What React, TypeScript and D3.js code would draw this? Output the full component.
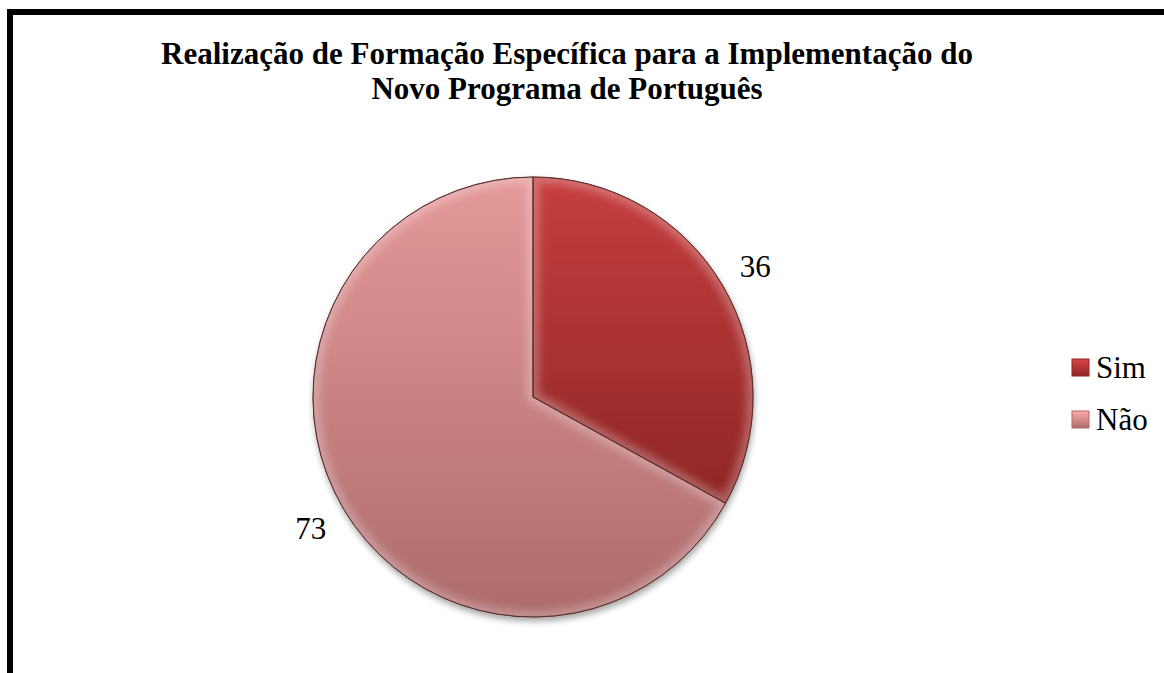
import React, { useEffect } from 'react';
import * as d3 from 'd3';

const categories = ["Sim", "Não"];
const values = [36, 73];
const titleLines = [
	"Realização de Formação Específica para a Implementação do",
	"Novo Programa de Português"
];

// top, bottom colour of each slice gradient
const sliceColors = [
	["#c73e3e", "#8e2626"],
	["#e59999", "#ad6b6b"]
];

const width = 1164;
const height = 673;
const center = { x: 533, y: 397 };
const radius = 220;
const labelRadius = 258;
const serif = "Liberation Serif, Times New Roman, serif";

const App = () => {

	useEffect(() => {
		document.body.style.margin = "0";
	}, []);

	const pie = d3.pie<number>().sort(null).value(d => d);
	const arcs = pie(values);
	const arc = d3.arc<d3.PieArcDatum<number>>().innerRadius(0).outerRadius(radius);
	const labelArc = d3.arc<d3.PieArcDatum<number>>().innerRadius(labelRadius).outerRadius(labelRadius);

	const legend = d3.scaleBand().domain(categories).range([342, 446]);

	return (
		<svg width={ width } height={ height } style={{ display: "block", background: "#fff" }}>
			<defs>
				{ sliceColors.map((c, i) => (
					<linearGradient key={ i } id={ `grad${ i }` } x1="0" y1="0" x2="0" y2="1">
						<stop offset="0%" stopColor={ c[0] } />
						<stop offset="100%" stopColor={ c[1] } />
					</linearGradient>
				)) }
				{ sliceColors.map((c, i) => (
					<linearGradient key={ i } id={ `lgrad${ i }` } x1="0" y1="0" x2="0" y2="1">
						<stop offset="0%" stopColor={ d3.color(c[0]).brighter(0.3).formatHex() } />
						<stop offset="100%" stopColor={ c[1] } />
					</linearGradient>
				)) }
				<filter id="shadow" x="-10%" y="-10%" width="120%" height="125%">
					<feDropShadow dx="1" dy="4" stdDeviation="3" floodColor="#000" floodOpacity="0.35" />
				</filter>
				<filter id="bevel" x="-5%" y="-5%" width="110%" height="110%">
					<feGaussianBlur stdDeviation="4" />
				</filter>
				{ arcs.map((a, i) => (
					<clipPath key={ i } id={ `clip${ i }` }>
						<path d={ arc(a) } transform={ `translate(${ center.x },${ center.y })` } />
					</clipPath>
				)) }
			</defs>

			{/* frame */}
			<path d={ `M10,${ height } L10,12 L${ width },12` } fill="none" stroke="#000" strokeWidth={ 6 } />

			<g className="title" style={{ fontFamily: serif }} fontWeight="bold" fontSize={ 31 } textAnchor="middle">
				{ titleLines.map((line, i) => (
					<text key={ i } x={ 567 } y={ 64 + i * 35 }>{ line }</text>
				)) }
			</g>

			<g className="slices" filter="url(#shadow)">
				{ arcs.map((a, i) => (
					<path key={ i }
						d={ arc(a) }
						transform={ `translate(${ center.x },${ center.y })` }
						fill={ `url(#grad${ i })` }
						stroke="#5a2020"
						strokeWidth={ 1 } />
				)) }
			</g>
			<g className="bevel">
				{ arcs.map((a, i) => (
					<g key={ i } clipPath={ `url(#clip${ i })` }>
						<path
							d={ arc(a) }
							transform={ `translate(${ center.x },${ center.y })` }
							fill="none"
							stroke="#fff"
							strokeOpacity={ 0.28 }
							strokeWidth={ 12 }
							filter="url(#bevel)" />
					</g>
				)) }
			</g>
			<g className="outline">
				{ arcs.map((a, i) => (
					<path key={ i }
						d={ arc(a) }
						transform={ `translate(${ center.x },${ center.y })` }
						fill="none"
						stroke="#4a1a1a"
						strokeOpacity={ 0.6 }
						strokeWidth={ 1 } />
				)) }
			</g>

			<g className="labels" style={{ fontFamily: serif }} fontSize={ 31 } textAnchor="middle">
				{ arcs.map((a, i) => {
					const [x, y] = labelArc.centroid(a);
					return (
						<text key={ i } x={ center.x + x } y={ center.y + y } dy="0.35em">{ values[i] }</text>
					);
				}) }
			</g>

			<g className="legend" style={{ fontFamily: serif }} fontSize={ 31 }>
				{ categories.map((c, i) => {
					const y = legend(c) + legend.bandwidth() / 2;
					return (
						<g key={ c } transform={ `translate(1072,${ y })` }>
							<rect x={ 0 } y={ -9 } width={ 17 } height={ 17 }
								fill={ `url(#lgrad${ i })` } stroke={ sliceColors[i][1] } strokeWidth={ 1 } />
							<text x={ 24 } y={ 0 } dy="0.33em">{ c }</text>
						</g>
					);
				}) }
			</g>
		</svg>
	);
};

export default App;
